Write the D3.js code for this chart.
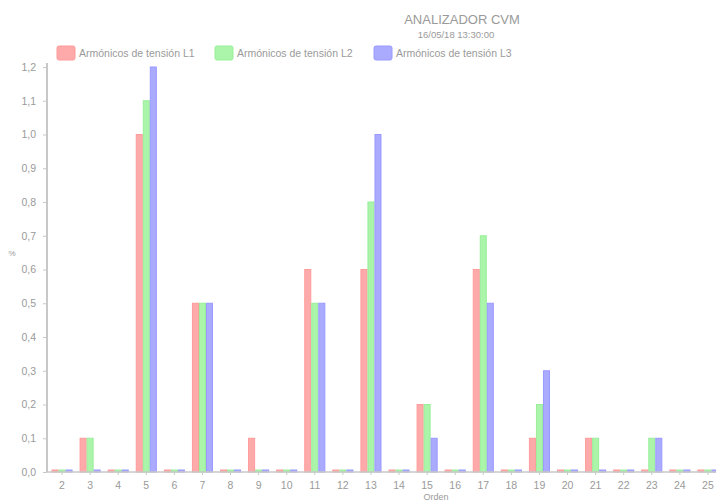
<!DOCTYPE html>
<html>
<head>
  <meta charset="utf-8">
  <title>ANALIZADOR CVM</title>
  <script src="https://d3js.org/d3.v7.min.js"></script>
  <style>
    body { margin: 0; background: #fff; font-family: "Liberation Sans", Arial, sans-serif; }
    text { fill: #9a9a9a; }
  </style>
</head>
<body>
  <svg id="chart" width="716" height="501"></svg>

  <script>
    const orders = [2, 3, 4, 5, 6, 7, 8, 9, 10, 11, 12, 13, 14, 15, 16, 17, 18, 19, 20, 21, 22, 23, 24, 25];
    const seriesNames = ["Armónicos de tensión L1", "Armónicos de tensión L2", "Armónicos de tensión L3"];
    const l1 = [0, 0.1, 0, 1.0, 0, 0.5, 0, 0.1, 0, 0.6, 0, 0.6, 0, 0.2, 0, 0.6, 0, 0.1, 0, 0.1, 0, 0, 0, 0];
    const l2 = [0, 0.1, 0, 1.1, 0, 0.5, 0, 0, 0, 0.5, 0, 0.8, 0, 0.2, 0, 0.7, 0, 0.2, 0, 0.1, 0, 0.1, 0, 0];
    const l3 = [0, 0, 0, 1.2, 0, 0.5, 0, 0, 0, 0.5, 0, 1.0, 0, 0.1, 0, 0.5, 0, 0.3, 0, 0, 0, 0.1, 0, 0];
    const yTicks = [0, 0.1, 0.2, 0.3, 0.4, 0.5, 0.6, 0.7, 0.8, 0.9, 1.0, 1.1, 1.2];

    const fills = ["#ffaaaa", "#aaf5aa", "#aaaaff"];
    const strokes = ["#ff9a9a", "#99ee99", "#9a9aff"];

    const svg = d3.select("#chart");
    const mLeft = 47, mRight = 722, mTop = 67, mBottom = 472;

    const x = d3.scaleBand().domain(orders).range([mLeft + 1, mRight]).paddingInner(0.25).paddingOuter(0.125);
    const xs = d3.scaleBand().domain([0, 1, 2]).range([0, x.bandwidth()]);
    const y = d3.scaleLinear().domain([0, 1.2]).range([mBottom, mTop]);

    const rows = orders.map((o, i) => ({ order: o, values: [l1[i], l2[i], l3[i]] }));

    // bars
    const groups = svg.append("g").selectAll("g")
      .data(rows)
      .join("g")
      .attr("transform", d => `translate(${x(d.order)},0)`);

    groups.selectAll("rect")
      .data(d => d.values.map((v, k) => ({ v, k })))
      .join("rect")
      .attr("x", d => xs(d.k) + 0.5)
      .attr("width", xs.bandwidth() - 1)
      .attr("y", d => Math.min(y(d.v), mBottom - 2))
      .attr("height", d => Math.max(2, mBottom - y(d.v)))
      .attr("fill", d => fills[d.k])
      .attr("stroke", d => strokes[d.k])
      .attr("stroke-width", 1);

    // y axis
    const yAxis = svg.append("g")
      .attr("transform", `translate(${mLeft},0)`)
      .call(d3.axisLeft(y).tickValues(yTicks).tickSize(4).tickPadding(7)
        .tickFormat(d => d3.format(".1f")(d).replace(".", ",")));
    yAxis.select(".domain").attr("stroke", "#c8c8c8").attr("stroke-width", 2).attr("d", `M0,${mTop - 4}V${mBottom}`);
    yAxis.selectAll(".tick line").attr("stroke", "#c8c8c8");
    yAxis.selectAll(".tick text").style("font-size", "10.5px").attr("fill", "#a0a0a0");

    // x axis
    const xAxis = svg.append("g")
      .attr("transform", `translate(0,${mBottom})`)
      .call(d3.axisBottom(x).tickSize(3).tickPadding(7));
    xAxis.select(".domain").attr("stroke", "#c8c8c8").attr("stroke-width", 1.5).attr("d", `M${mLeft},0H716`);
    xAxis.selectAll(".tick line").attr("stroke", "#c8c8c8");
    xAxis.selectAll(".tick text").style("font-size", "10.5px").attr("fill", "#a0a0a0");

    // axis titles
    svg.append("text").attr("x", 12).attr("y", 256).attr("text-anchor", "middle")
      .style("font-size", "8px").text("%");
    svg.append("text").attr("x", 436).attr("y", 500).attr("text-anchor", "middle")
      .style("font-size", "9px").text("Orden");

    // title
    svg.append("text").attr("x", 462).attr("y", 24).attr("text-anchor", "middle")
      .style("font-size", "13px").attr("fill", "#9a9a9a").text("ANALIZADOR CVM");
    svg.append("text").attr("x", 456).attr("y", 38).attr("text-anchor", "middle")
      .style("font-size", "9.5px").attr("fill", "#aaaaaa").text("16/05/18 13:30:00");

    // legend
    const legendX = [57, 215, 374];
    const legend = svg.append("g").selectAll("g")
      .data(seriesNames)
      .join("g")
      .attr("transform", (d, i) => `translate(${legendX[i]},46)`);
    legend.append("rect")
      .attr("width", 18).attr("height", 14).attr("rx", 2)
      .attr("fill", (d, i) => fills[i]).attr("stroke", (d, i) => strokes[i]);
    legend.append("text")
      .attr("x", 22).attr("y", 11)
      .style("font-size", "10.5px").attr("fill", "#a0a0a0")
      .text(d => d);
  </script>
</body>
</html>
